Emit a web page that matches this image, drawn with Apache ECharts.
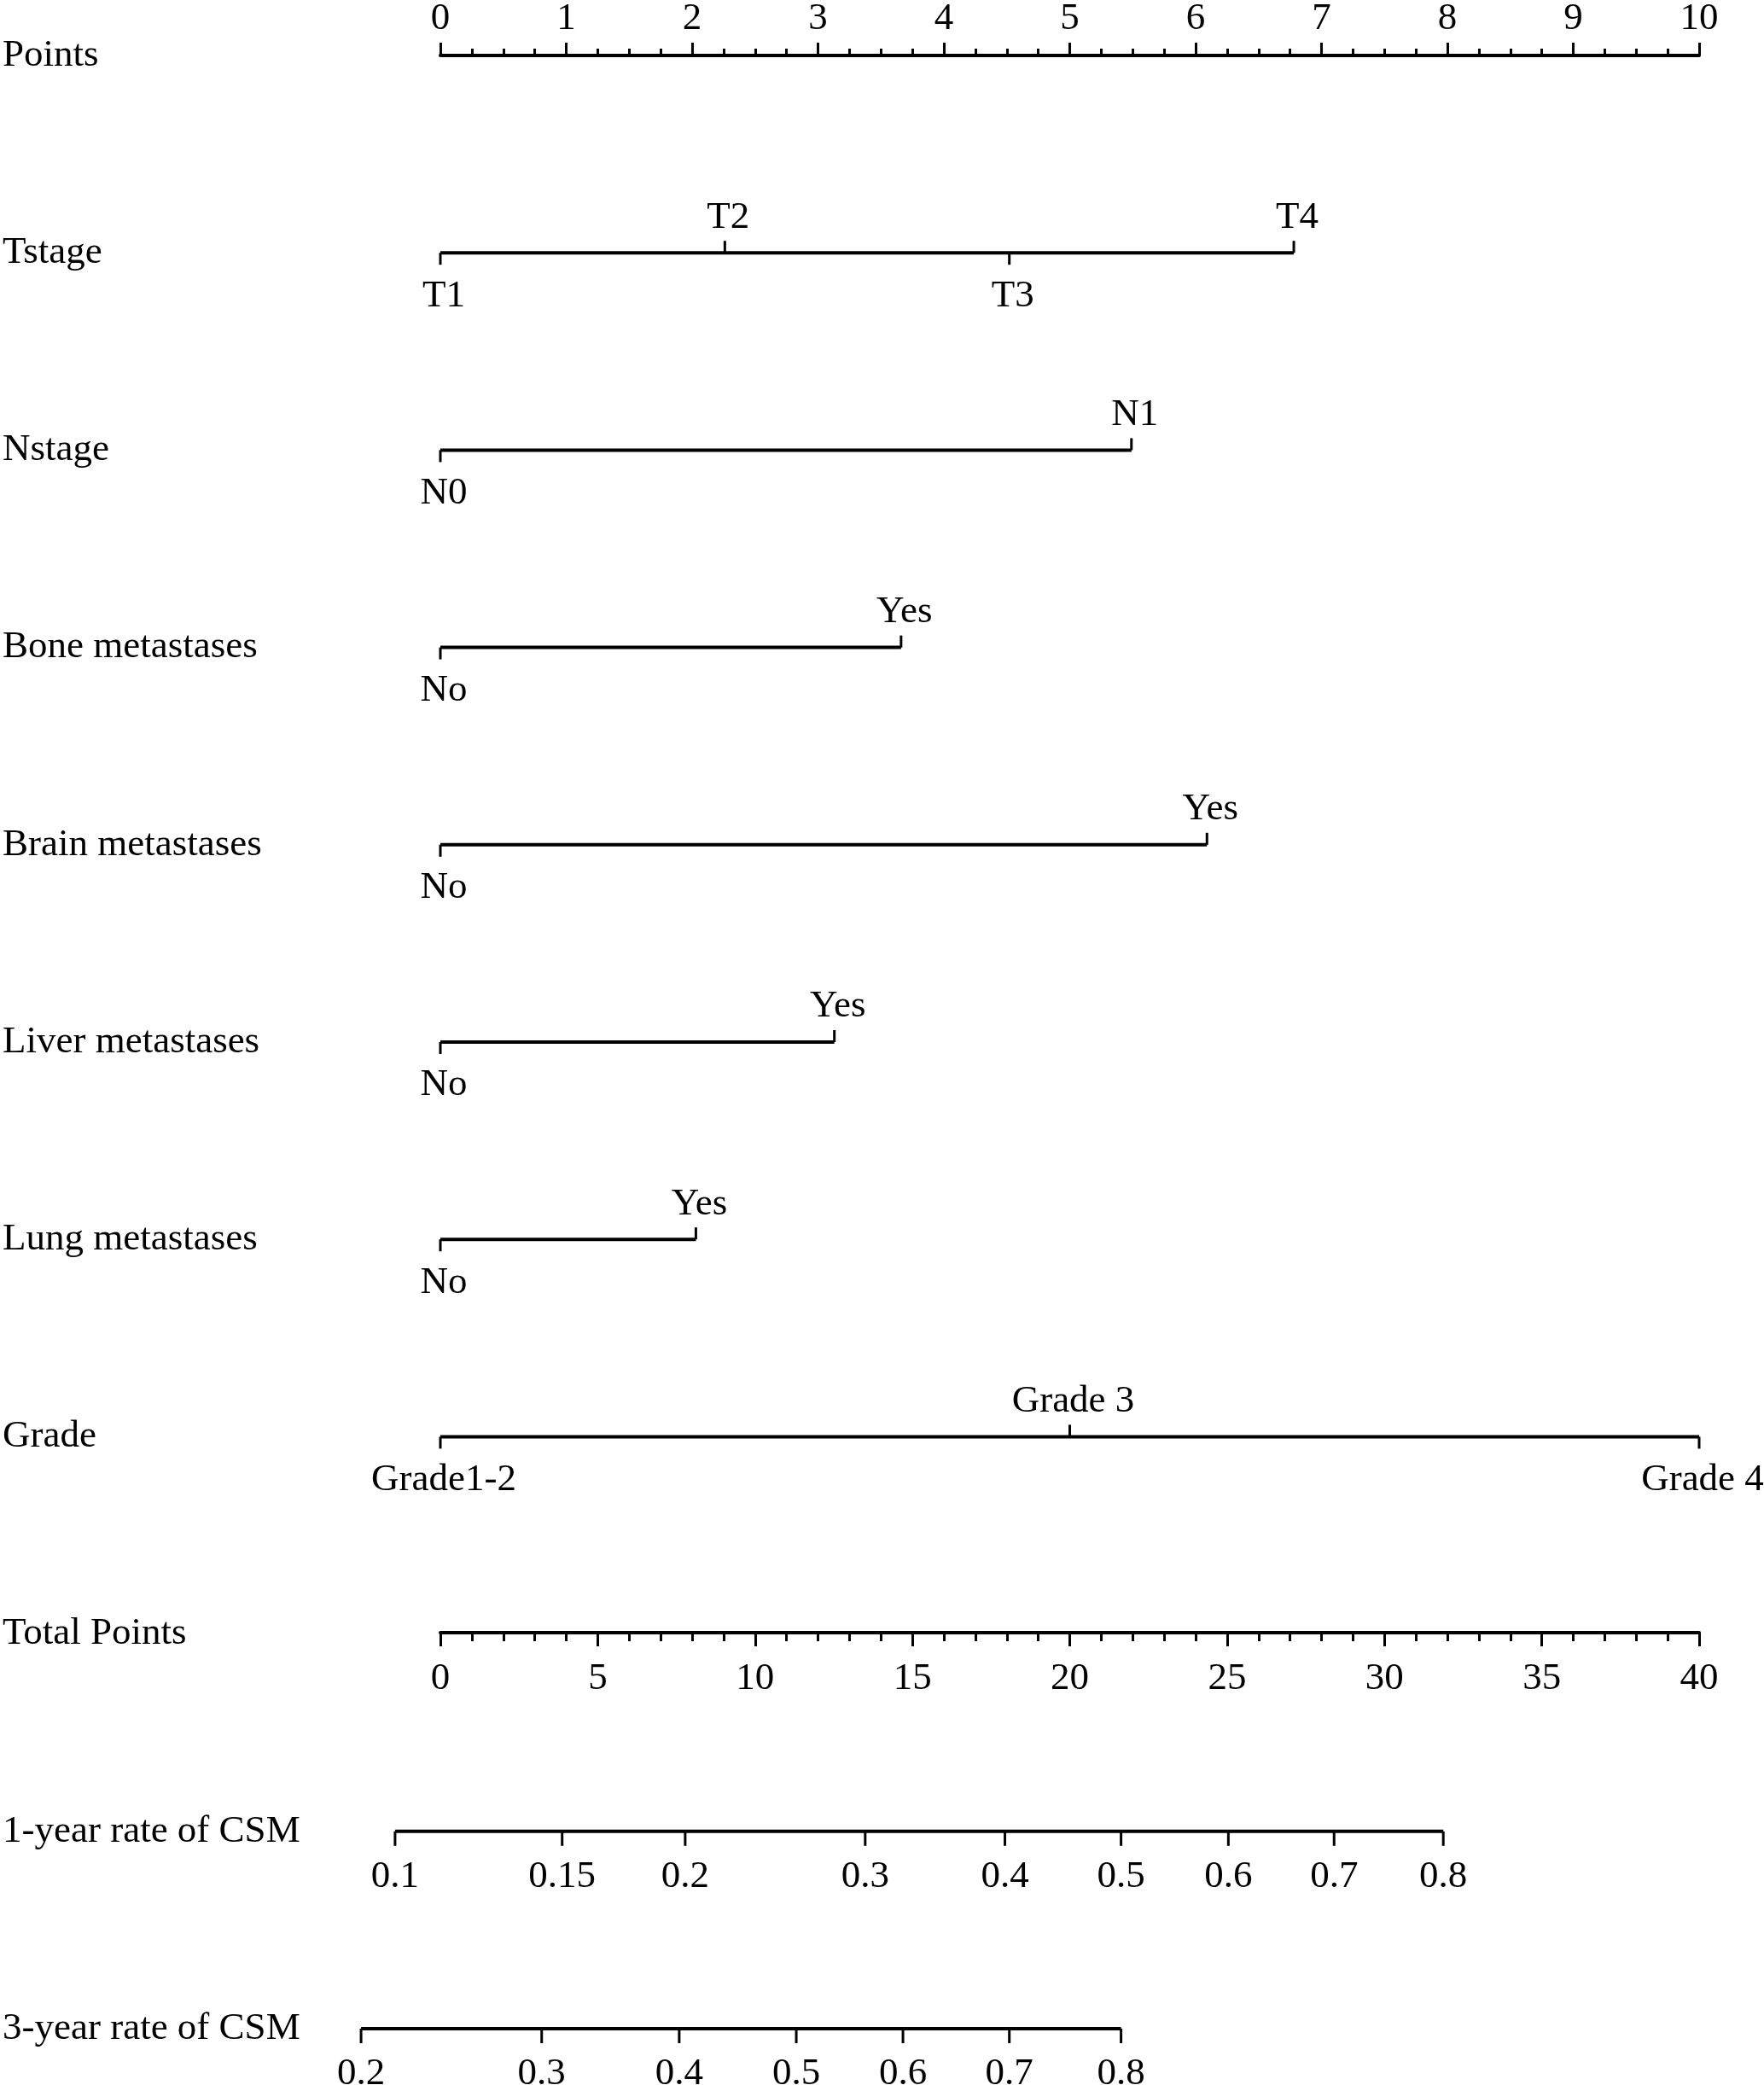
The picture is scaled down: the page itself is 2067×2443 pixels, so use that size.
<!DOCTYPE html>
<html>
<head>
<meta charset="utf-8">
<script src="https://cdn.jsdelivr.net/npm/echarts@6/dist/echarts.min.js"></script>
<style>
  html, body { margin: 0; padding: 0; background: #fff; }
  #chart { width: 2067px; height: 2443px; }
</style>
</head>
<body>
<div id="chart"></div>
<script>
// row titles, top to bottom
const rowNames = ['Points', 'Tstage', 'Nstage', 'Bone metastases', 'Brain metastases',
  'Liver metastases', 'Lung metastases', 'Grade', 'Total Points',
  '1-year rate of CSM', '3-year rate of CSM'];

// predictor levels and their points (0-10 scale)
const tstageLabels = ['T1', 'T2', 'T3', 'T4'];
const tstagePoints = [0, 2.26, 4.52, 6.78];
const nstageLabels = ['N0', 'N1'];
const nstagePoints = [0, 5.49];
const boneLabels = ['No', 'Yes'];
const bonePoints = [0, 3.66];
const brainLabels = ['No', 'Yes'];
const brainPoints = [0, 6.09];
const liverLabels = ['No', 'Yes'];
const liverPoints = [0, 3.13];
const lungLabels = ['No', 'Yes'];
const lungPoints = [0, 2.03];
const gradeLabels = ['Grade1-2', 'Grade 3', 'Grade 4'];
const gradePoints = [0, 5.0, 10];

// risk scales, placed on total points
const oneYearLabels = ['0.1', '0.15', '0.2', '0.3', '0.4', '0.5', '0.6', '0.7', '0.8'];
const oneYearTotals = [-1.44, 3.87, 7.78, 13.5, 17.94, 21.63, 25.04, 28.4, 31.87];
const threeYearLabels = ['0.2', '0.3', '0.4', '0.5', '0.6', '0.7', '0.8'];
const threeYearTotals = [-2.52, 3.22, 7.59, 11.31, 14.7, 18.08, 21.63];

const FONT = 'Liberation Serif, Times New Roman, serif';
const FS = 45;
const rowTop = 57, rowBottom = 2377;
const rowStep = (rowBottom - rowTop) / (rowNames.length - 1);

const chart = echarts.init(document.getElementById('chart'));

// side: 1 = tick up / label above, -1 = tick down / label below
function scaleSeries(row, labels, values, axisIdx, sides) {
  const lineSer = {
    type: 'line',
    xAxisIndex: axisIdx,
    yAxisIndex: 0,
    data: [[Math.min(...values), row], [Math.max(...values), row]],
    symbol: 'none',
    clip: false,
    silent: true,
    lineStyle: { color: '#000', width: 4 }
  };
  const tickSer = {
    type: 'custom',
    xAxisIndex: axisIdx,
    yAxisIndex: 0,
    silent: true,
    data: values.map(v => [v, row]),
    renderItem: (params, api) => {
      const p = api.coord([api.value(0), api.value(1)]);
      const side = sides ? sides(params.dataIndex) : -1;
      const up = side > 0;
      const tickLen = axisIdx === 1 ? 17 : 14;
      return {
        type: 'group',
        children: [
          { type: 'line',
            shape: { x1: p[0], y1: p[1], x2: p[0], y2: p[1] + (up ? -tickLen : tickLen) },
            style: { stroke: '#000', lineWidth: 3 } },
          { type: 'text',
            x: p[0] + (axisIdx === 1 ? 0 : 4),
            y: up ? p[1] - 19 : (axisIdx === 1 ? p[1] + 31 : p[1] + 28),
            style: {
              text: labels[params.dataIndex],
              font: FS + 'px ' + FONT,
              fill: '#000',
              align: 'center', textAlign: 'center',
              verticalAlign: up ? 'bottom' : 'top',
              textVerticalAlign: up ? 'bottom' : 'top'
            } }
        ]
      };
    }
  };
  return [lineSer, tickSer];
}

const alternate = i => (i % 2 === 0 ? -1 : 1);

const series = [].concat(
  scaleSeries('Tstage', tstageLabels, tstagePoints, 0, alternate),
  scaleSeries('Nstage', nstageLabels, nstagePoints, 0, alternate),
  scaleSeries('Bone metastases', boneLabels, bonePoints, 0, alternate),
  scaleSeries('Brain metastases', brainLabels, brainPoints, 0, alternate),
  scaleSeries('Liver metastases', liverLabels, liverPoints, 0, alternate),
  scaleSeries('Lung metastases', lungLabels, lungPoints, 0, alternate),
  scaleSeries('Grade', gradeLabels, gradePoints, 0, alternate),
  scaleSeries('1-year rate of CSM', oneYearLabels, oneYearTotals, 1, null),
  scaleSeries('3-year rate of CSM', threeYearLabels, threeYearTotals, 1, null)
);

const axisText = { fontFamily: FONT, fontSize: FS, color: '#000' };

const option = {
  animation: false,
  backgroundColor: '#fff',
  grid: { left: 515, right: 76, top: rowTop, bottom: 2443 - rowBottom, containLabel: false },
  xAxis: [
    { // Points
      type: 'value', position: 'top', min: 0, max: 10, interval: 1,
      axisLine: { show: true, onZero: false, lineStyle: { color: '#000', width: 4 } },
      axisTick: { show: true, length: 15, lineStyle: { color: '#000', width: 3 } },
      minorTick: { show: true, splitNumber: 4, length: 8, lineStyle: { color: '#000', width: 3 } },
      axisLabel: Object.assign({ margin: 20 }, axisText),
      splitLine: { show: false }, minorSplitLine: { show: false }
    },
    { // Total Points
      type: 'value', position: 'bottom', offset: -(rowBottom - (rowTop + 8 * rowStep)),
      min: 0, max: 40, interval: 5,
      axisLine: { show: true, onZero: false, lineStyle: { color: '#000', width: 4 } },
      axisTick: { show: true, length: 16, lineStyle: { color: '#000', width: 3 } },
      minorTick: { show: true, splitNumber: 5, length: 10, lineStyle: { color: '#000', width: 3 } },
      axisLabel: Object.assign({ margin: 32 }, axisText),
      splitLine: { show: false }, minorSplitLine: { show: false }
    }
  ],
  yAxis: {
    type: 'category', inverse: true, boundaryGap: false, data: rowNames,
    axisLine: { show: false }, axisTick: { show: false }, splitLine: { show: false },
    axisLabel: Object.assign({ align: 'left', margin: 513, interval: 0 }, axisText)
  },
  series: series
};

chart.setOption(option);
</script>
</body>
</html>
